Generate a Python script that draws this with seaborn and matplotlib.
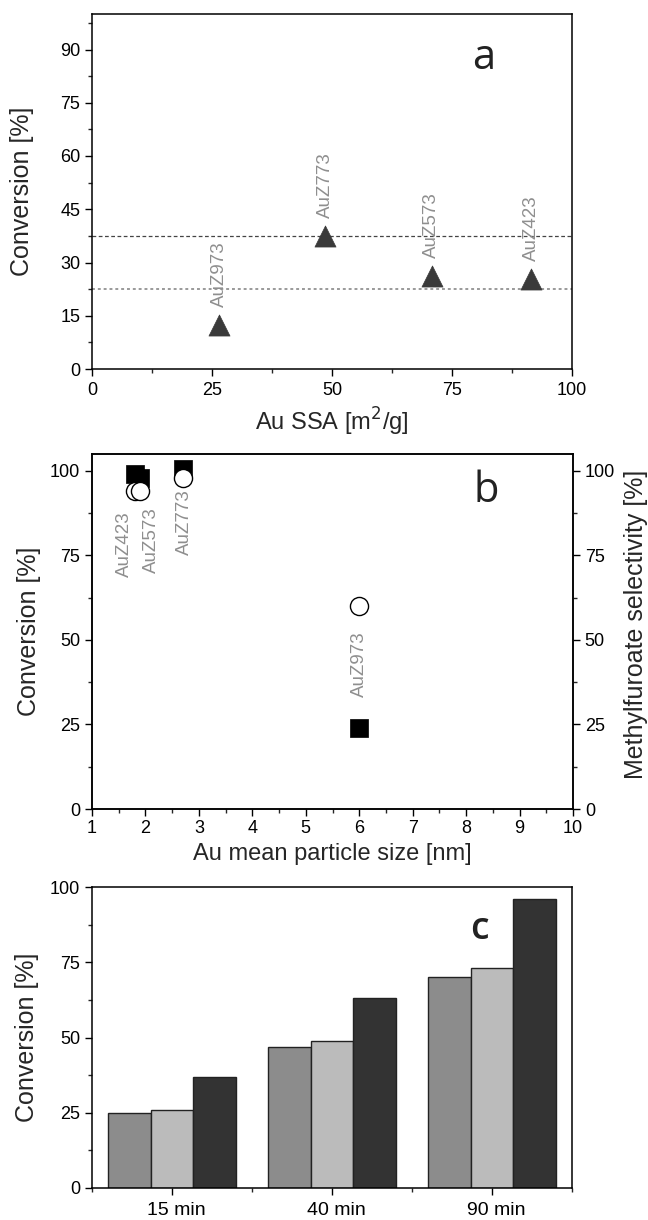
import matplotlib
matplotlib.use("Agg")
import matplotlib.pyplot as plt
import matplotlib.transforms as mtransforms
import seaborn as sns
import pandas as pd
from matplotlib.ticker import MultipleLocator

# ---------------- data ----------------
# panel a
samples_a = ["AuZ973", "AuZ773", "AuZ573", "AuZ423"]
ssa_a = [26.5, 48.6, 70.8, 91.5]
conv_a = [12.5, 37.5, 26.3, 25.3]
ref_lines_a = [37.5, 22.5]

# panel b
samples_b = ["AuZ423", "AuZ573", "AuZ773", "AuZ973"]
size_b = [1.8, 1.9, 2.7, 6.0]
conv_b = [99.0, 98.0, 100.5, 24.0]
sel_b = [94.0, 94.0, 98.0, 60.0]

# panel c
times_c = ["15 min", "40 min", "90 min"]
series_c = ["S1", "S2", "S3"]
conv_c_s1 = [25.0, 47.0, 70.0]
conv_c_s2 = [26.0, 49.0, 73.0]
conv_c_s3 = [37.0, 63.0, 96.0]
colors_c = ["#8c8c8c", "#bbbbbb", "#333333"]

# ---------------- style ----------------
sns.set_style("ticks")
plt.rcParams["font.family"] = ["Liberation Sans", "DejaVu Sans"]
plt.rcParams["axes.linewidth"] = 1.1
plt.rcParams["xtick.direction"] = "out"
plt.rcParams["ytick.direction"] = "out"

TICK_FS = 13
YLAB_FS = 18
XLAB_FS = 17
PT_FS = 13.5
GRAY = "#8f8f8f"

fig = plt.figure(figsize=(6.48, 12.2), dpi=100)
W, H = 648.0, 1220.0


def add_ax(left, top, right, bottom):
    return fig.add_axes([left / W, 1 - bottom / H, (right - left) / W, (bottom - top) / H])


def style_ticks(ax, right=False):
    ax.tick_params(which="major", length=5, width=1.0, labelsize=TICK_FS, colors="black")
    ax.tick_params(axis="x", which="major", pad=4.5)
    ax.tick_params(axis="y", which="major", pad=3.5)
    ax.tick_params(which="minor", length=3, width=1.0)
    ax.tick_params(top=False, right=right, which="both")
    for s in ax.spines.values():
        s.set_visible(True)
        s.set_color("black")


# ---------------- panel a ----------------
axa = add_ax(92, 14, 572, 369)
dfa = pd.DataFrame({"ssa": ssa_a, "conv": conv_a, "name": samples_a})
sns.scatterplot(data=dfa, x="ssa", y="conv", marker="^", s=230, color="#3a3a3a",
                edgecolor="#3a3a3a", linewidth=0.5, ax=axa, zorder=3)
axa.axhline(ref_lines_a[0], color="#444444", lw=0.9, ls=(0, (3, 2)), zorder=1)
axa.axhline(ref_lines_a[1], color="#9a9a9a", lw=1.4, ls=(0, (1.5, 1.5)), zorder=1)
for xv, yv, nm in zip(ssa_a, conv_a, samples_a):
    axa.annotate(nm, (xv, yv), xytext=(0, 18), textcoords="offset pixels",
                 rotation=90, ha="center", va="bottom", color=GRAY, fontsize=PT_FS)
axa.set_xlim(0, 100)
axa.set_ylim(0, 100)
axa.xaxis.set_major_locator(MultipleLocator(25))
axa.xaxis.set_minor_locator(MultipleLocator(12.5))
axa.yaxis.set_major_locator(MultipleLocator(15))
axa.yaxis.set_minor_locator(MultipleLocator(7.5))
axa.set_xlabel("Au SSA [m$^2$/g]", fontsize=XLAB_FS, labelpad=5)
axa.set_ylabel("Conversion [%]", fontsize=YLAB_FS)
axa.yaxis.set_label_coords(-0.12, 0.5)
style_ticks(axa)
axa.text(0.815, 0.875, "a", transform=axa.transAxes, fontsize=30, family="Open Sans",
         color="#222222", ha="center", va="center")

# ---------------- panel b ----------------
axb = add_ax(92, 454, 573, 809)
dfb = pd.DataFrame({"size": size_b, "conv": conv_b, "sel": sel_b, "name": samples_b})
sns.scatterplot(data=dfb, x="size", y="conv", marker="s", s=150, color="black",
                edgecolor="black", linewidth=0.5, ax=axb, zorder=3)
axb2 = axb.twinx()
sns.scatterplot(data=dfb, x="size", y="sel", marker="o", s=170, color="white",
                edgecolor="black", linewidth=1.0, ax=axb2, zorder=4)
label_offsets_b = [(-10, -20), (11, -16), (2, -12), (0, -25)]
for xv, yv, nm, (dx, dy) in zip(size_b, sel_b, samples_b, label_offsets_b):
    axb2.annotate(nm, (xv, yv), xytext=(dx, dy), textcoords="offset pixels",
                  rotation=90, ha="center", va="top", color=GRAY, fontsize=PT_FS)
for ax in (axb, axb2):
    ax.set_xlim(1, 10)
    ax.set_ylim(0, 105)
    ax.yaxis.set_major_locator(MultipleLocator(25))
    ax.yaxis.set_minor_locator(MultipleLocator(12.5))
axb.xaxis.set_major_locator(MultipleLocator(1))
axb.xaxis.set_minor_locator(MultipleLocator(0.5))
axb.set_xlabel("Au mean particle size [nm]", fontsize=XLAB_FS, labelpad=4)
axb.set_ylabel("Conversion [%]", fontsize=YLAB_FS)
axb.yaxis.set_label_coords(-0.105, 0.5)
axb2.set_ylabel("Methylfuroate selectivity [%]", fontsize=YLAB_FS)
style_ticks(axb)
axb.tick_params(right=False, which="both")
axb.tick_params(axis="x", which="major", pad=3)
style_ticks(axb2, right=True)
axb2.tick_params(left=False, which="both")
axb2.yaxis.set_label_coords(1.105, 0.52)
axb.text(0.82, 0.895, "b", transform=axb.transAxes, fontsize=30, family="Open Sans",
         color="#222222", ha="center", va="center")

# ---------------- panel c ----------------
axc = add_ax(92, 887, 572, 1188)
dfc = pd.DataFrame({
    "time": times_c * 3,
    "series": [series_c[0]] * 3 + [series_c[1]] * 3 + [series_c[2]] * 3,
    "conv": conv_c_s1 + conv_c_s2 + conv_c_s3,
})
sns.barplot(data=dfc, x="time", y="conv", hue="series", palette=colors_c,
            edgecolor="#222222", linewidth=1.0, width=0.8, ax=axc, legend=False)
axc.set_xlim(-0.5, 2.5)
axc.set_ylim(0, 100)
axc.yaxis.set_major_locator(MultipleLocator(25))
axc.yaxis.set_minor_locator(MultipleLocator(12.5))
axc.set_xticks([-0.5, 0.5, 1.5, 2.5], minor=True)
axc.set_xlabel("")
axc.set_ylabel("Conversion [%]", fontsize=YLAB_FS)
axc.yaxis.set_label_coords(-0.11, 0.5)
style_ticks(axc)
axc.tick_params(axis="x", which="major", labelsize=14, pad=5)
shift = mtransforms.ScaledTranslation(4 / 100, 0, fig.dpi_scale_trans)
for lbl in axc.get_xticklabels():
    lbl.set_transform(lbl.get_transform() + shift)
axc.text(0.808, 0.862, "c", transform=axc.transAxes, fontsize=27, family="Open Sans",
         weight="semibold", color="#222222", ha="center", va="center")

fig.savefig("out.png", dpi=100)
